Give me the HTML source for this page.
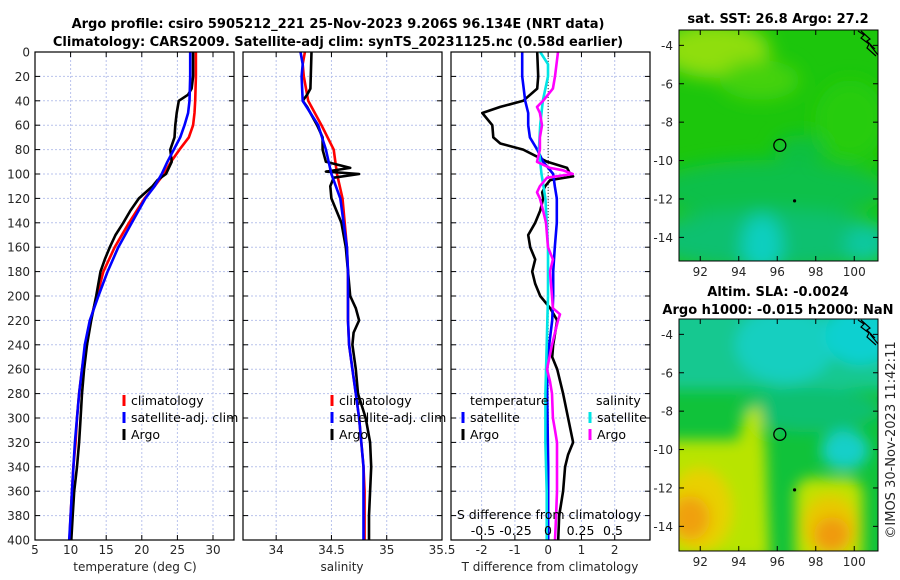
<!DOCTYPE html>
<html><head><meta charset="utf-8"><title>Argo profile</title>
<style>
html,body{margin:0;padding:0;background:#fff;}
svg{display:block;font-family:"DejaVu Sans","Liberation Sans",sans-serif;}
.tk{font-size:12px;fill:#262626;}
.ttl{font-size:13px;font-weight:bold;fill:#000;}
.lg{font-size:12.5px;fill:#000;}
</style></head>
<body>
<svg id="fig" width="900" height="580" viewBox="0 0 900 580">
<defs>
<filter id="blur1" x="-20%" y="-20%" width="140%" height="140%"><feGaussianBlur stdDeviation="9"/></filter>
<filter id="blur2" x="-20%" y="-20%" width="140%" height="140%"><feGaussianBlur stdDeviation="7"/></filter>
<clipPath id="clipM1"><rect x="679" y="30" width="199" height="231"/></clipPath>
<clipPath id="clipM2"><rect x="679" y="319" width="199" height="232"/></clipPath>
<clipPath id="clipP1"><rect x="35" y="52" width="199" height="488"/></clipPath>
<clipPath id="clipP2"><rect x="243" y="52" width="199" height="488"/></clipPath>
<clipPath id="clipP3"><rect x="451" y="52" width="199" height="488"/></clipPath>
</defs>
<text class="ttl" x="338" y="28" text-anchor="middle">Argo profile: csiro 5905212_221 25-Nov-2023 9.206S 96.134E (NRT data)</text>
<text class="ttl" x="338" y="46" text-anchor="middle">Climatology: CARS2009. Satellite-adj clim: synTS_20231125.nc (0.58d earlier)</text>

<!-- SST map -->
<g>
<text class="ttl" x="778" y="23" text-anchor="middle">sat. SST: 26.8 Argo: 27.2</text>
<g clip-path="url(#clipM1)">
<rect x="679" y="30" width="199" height="231" fill="#1cc60c"/>
<g filter="url(#blur1)">
<ellipse cx="715" cy="50" rx="55" ry="28" fill="#8fde08"/>
<ellipse cx="760" cy="80" rx="40" ry="20" fill="#44d20a"/>
<ellipse cx="850" cy="120" rx="35" ry="40" fill="#28cc08"/>
<ellipse cx="770" cy="190" rx="120" ry="30" fill="#10c048"/>
<ellipse cx="770" cy="240" rx="130" ry="30" fill="#0cc070"/>
<ellipse cx="762" cy="245" rx="20" ry="30" fill="#08cfc0"/>
<ellipse cx="865" cy="245" rx="20" ry="20" fill="#08c8a0"/>
<ellipse cx="800" cy="150" rx="25" ry="15" fill="#0fbf40"/>
</g>
</g>
<rect x="679" y="30" width="199" height="231" fill="none" stroke="#000" stroke-width="1"/>
</g>

<!-- SLA map -->
<g>
<text class="ttl" x="778" y="296" text-anchor="middle">Altim. SLA: -0.0024</text>
<text class="ttl" x="778" y="314" text-anchor="middle">Argo h1000: -0.015 h2000: NaN</text>
<g clip-path="url(#clipM2)">
<rect x="679" y="319" width="199" height="232" fill="#10c23a"/>
<g filter="url(#blur2)">
<rect x="660" y="300" width="240" height="90" fill="#14c890"/>
<ellipse cx="785" cy="345" rx="50" ry="38" fill="#18cfc0"/>
<ellipse cx="860" cy="335" rx="35" ry="30" fill="#10d0d0"/>
<ellipse cx="845" cy="450" rx="24" ry="20" fill="#18cfc8"/>
<ellipse cx="810" cy="410" rx="70" ry="22" fill="#10c070"/>
<polygon points="665,440 738,440 745,412 760,405 766,450 770,560 665,560" fill="#b8e400"/>
<ellipse cx="700" cy="510" rx="32" ry="42" fill="#e8d000"/>
<ellipse cx="690" cy="518" rx="20" ry="22" fill="#f0a010"/>
<rect x="795" y="478" width="68" height="90" rx="16" fill="#c0e200"/>
<ellipse cx="830" cy="525" rx="28" ry="30" fill="#e8c800"/>
<ellipse cx="832" cy="535" rx="18" ry="18" fill="#f09a10"/>
</g>
</g>
<rect x="679" y="319" width="199" height="232" fill="none" stroke="#000" stroke-width="1"/>
</g>
<text class="tk" transform="translate(895,440) rotate(-90)" text-anchor="middle" style="font-size:13px">©IMOS 30-Nov-2023 11:42:11</text>
<g id="plots"></g>
</svg>
<script>
// ---------- data ----------
const tempClimDepth = [0,20,40,50,60,70,80,90,100,110,120,140,160,180,200,220,240,260,280,300,320,340,360,380,400];
const tempClim = [27.6,27.6,27.5,27.4,27.2,26.6,25.3,24.1,23.1,21.8,20.4,18.2,16.2,14.6,13.7,12.8,12.1,11.6,11.2,10.9,10.7,10.4,10.2,10.0,9.85];
const tempSat = [26.8,26.8,26.7,26.5,26.0,25.4,24.5,23.6,22.8,21.8,20.5,18.6,16.7,15.2,13.9,12.7,12.0,11.6,11.2,10.9,10.6,10.4,10.2,10.0,9.8];
const tempArgoDepth = [0,20,30,35,40,50,60,70,80,90,100,105,110,120,130,140,150,160,170,180,200,220,240,260,280,300,320,340,360,380,400];
const tempArgo = [27.2,27.2,27.0,26.5,25.2,24.9,24.7,24.6,24.0,24.2,23.4,22.2,21.5,19.6,18.4,17.4,16.3,15.5,14.8,14.2,13.6,12.9,12.3,11.9,11.6,11.4,11.2,10.9,10.5,10.3,10.1];

const salDepth = [0,10,20,40,60,80,100,120,140,160,180,200,220,240,260,280,300,320,340,360,380,400];
const salClim = [34.26,34.24,34.25,34.29,34.41,34.52,34.55,34.6,34.62,34.64,34.65,34.65,34.65,34.66,34.69,34.72,34.75,34.77,34.79,34.8,34.8,34.8];
const salSat = [34.22,34.24,34.23,34.24,34.38,34.45,34.5,34.58,34.61,34.64,34.65,34.65,34.65,34.66,34.69,34.72,34.75,34.77,34.79,34.79,34.79,34.79];
const salArgoDepth = [0,30,35,40,45,50,60,70,80,90,95,98,100,103,110,120,140,160,180,200,210,220,230,240,260,280,300,320,340,360,380,400];
const salArgo = [34.32,34.31,34.28,34.24,34.28,34.31,34.37,34.42,34.42,34.45,34.67,34.45,34.75,34.52,34.49,34.5,34.59,34.63,34.65,34.67,34.72,34.75,34.70,34.69,34.72,34.74,34.81,34.85,34.86,34.85,34.84,34.84];

const tDiffSatDepth = [0,20,40,50,60,70,80,90,100,110,120,140,160,180,200,220,240,260,280,300,340,400];
const tDiffSat = [-0.78,-0.78,-0.69,-0.6,-0.6,-0.55,-0.33,-0.15,0.15,0.2,0.26,0.26,0.2,0.15,0.15,0.12,0.03,-0.03,-0.03,-0.02,0,0];
const tDiffArgoDepth = [0,20,30,40,45,50,60,70,75,80,90,95,100,102,105,110,115,120,130,140,150,160,170,180,190,200,210,220,230,240,250,260,280,300,320,330,340,360,380,400];
const tDiffArgo = [-0.33,-0.3,-0.33,-0.75,-1.44,-1.98,-1.68,-1.65,-1.44,-0.75,-0.03,0.57,0.66,0.75,0.06,-0.09,-0.18,-0.15,-0.24,-0.39,-0.6,-0.54,-0.39,-0.48,-0.39,-0.24,0.06,0.27,0.21,0.15,0.12,0.27,0.45,0.6,0.75,0.6,0.51,0.45,0.33,0.3];
const sDiffSatDepth = [0,10,20,40,60,80,100,120,160,200,240,280,320,360,400];
const sDiffSat = [-0.06,0,0,-0.04,-0.06,-0.07,-0.05,-0.02,0,0,-0.01,-0.02,-0.02,-0.01,-0.01];
const sDiffArgoDepth = [0,20,30,40,45,50,60,70,80,90,95,97,100,103,110,115,120,130,140,160,170,180,200,210,215,220,230,240,260,270,280,300,310,320,340,360,380,400];
const sDiffArgo = [0.077,0.054,0.038,-0.038,-0.085,-0.062,-0.046,-0.062,-0.062,-0.085,0.015,0.115,0.19,-0.008,-0.062,-0.085,-0.062,-0.038,-0.015,0,0.038,0.015,0.031,0.038,0.092,0.077,0.054,0.031,-0.008,0.015,0.031,0.038,0.054,0.069,0.069,0.069,0.062,0.054];

const depthTicks = [0,20,40,60,80,100,120,140,160,180,200,220,240,260,280,300,320,340,360,380,400];
const tempTicks = [5,10,15,20,25,30];
const salTicks = [34,34.5,35,35.5];
const salTickLabels = ["34","34.5","35","35.5"];
const tdTicks = [-2,-1,0,1,2];
const sdTicks = [-0.5,-0.25,0,0.25,0.5];
const sdTickLabels = ["-0.5","-0.25","0","0.25","0.5"];
const latTicks = [-4,-6,-8,-10,-12,-14];
const lonTicks = [92,94,96,98,100];
const argoLon = 96.134, argoLat = -9.206;

// ---------- axes ----------
const NS = "http://www.w3.org/2000/svg";
const root = document.getElementById('plots');
const PT = 52, PB = 540;
const yD = d => PT + d * (PB - PT) / 400;
const panels = [
  {x0:35, x1:234, min:5, max:32.95, name:'temperature-panel', clip:'clipP1'},
  {x0:243, x1:442, min:33.7, max:35.5, name:'salinity-panel', clip:'clipP2'},
  {x0:451, x1:650, min:-2.92, max:3.06, name:'difference-panel', clip:'clipP3'}
];
function sx(p, v){ return p.x0 + (v - p.min) * (p.x1 - p.x0) / (p.max - p.min); }
const sdScale = v => 548 + v * 130;

function el(tag, attrs, parent){
  const e = document.createElementNS(NS, tag);
  for (const k in attrs) e.setAttribute(k, attrs[k]);
  (parent || root).appendChild(e);
  return e;
}
function txt(x, y, s, cls, anchor, parent){
  const t = el('text', {x:x, y:y, class:cls, 'text-anchor':anchor || 'middle'}, parent);
  t.textContent = s;
  return t;
}

panels.forEach((p, i) => {
  const g = el('g', {});
  
  
  p.g = g;
  const ticks = i === 0 ? tempTicks : i === 1 ? salTicks : tdTicks;
  depthTicks.forEach(d => {
    const l = el('line', {x1:p.x0, x2:p.x1, y1:yD(d), y2:yD(d), stroke:'#b9c3ec', 'stroke-width':1, 'stroke-dasharray':'2,2'}, g);
    
    
  });
  ticks.forEach(v => {
    const x = sx(p, v);
    const l = el('line', {x1:x, x2:x, y1:PT, y2:PB, stroke:'#b9c3ec', 'stroke-width':1, 'stroke-dasharray':'2,2'}, g);
    
    
    el('line', {x1:x, x2:x, y1:PB, y2:PB-5, stroke:'#000'}, g);
    el('line', {x1:x, x2:x, y1:PT, y2:PT+5, stroke:'#000'}, g);
  });
  depthTicks.forEach(d => {
    el('line', {x1:p.x0, x2:p.x0+5, y1:yD(d), y2:yD(d), stroke:'#000'}, g);
    el('line', {x1:p.x1, x2:p.x1-5, y1:yD(d), y2:yD(d), stroke:'#000'}, g);
  });
  ticks.forEach((v, k) => {
    const lab = i === 1 ? salTickLabels[k] : String(v);
    const t = txt(sx(p, v), 554, lab, 'tk', 'middle', g);
    
    
  });
});
depthTicks.forEach(d => {
  const t = txt(30, yD(d) + 4.5, String(d), 'tk', 'end', panels[0].g);
  
  
});
let t;
t = txt(135, 571, 'temperature (deg C)', 'tk', 'middle', panels[0].g);


t = txt(342, 571, 'salinity', 'tk', 'middle', panels[1].g);


t = txt(550, 571, 'T difference from climatology', 'tk', 'middle', panels[2].g);



const zl = el('line', {x1:sx(panels[2],0), x2:sx(panels[2],0), y1:PT, y2:PB, stroke:'#333', 'stroke-width':1, 'stroke-dasharray':'1,2'}, panels[2].g);



function series(p, xs, depths, xfn, color, name){
  const pts = xs.map((v, k) => xfn(v).toFixed(1) + ',' + yD(depths[k]).toFixed(1)).join(' ');
  const pl = el('polyline', {points:pts, fill:'none', stroke:color, 'stroke-width':2.6, 'stroke-linejoin':'round', 'clip-path':'url(#' + p.clip + ')'}, p.g);
  
  
}
const P1 = panels[0], P2 = panels[1], P3 = panels[2];
series(P1, tempClim, tempClimDepth, v => sx(P1, v), '#ff0000', 'temperature-climatology-line');
series(P1, tempArgo, tempArgoDepth, v => sx(P1, v), '#000000', 'temperature-argo-line');
series(P1, tempSat, tempClimDepth, v => sx(P1, v), '#0000ff', 'temperature-satellite-line');
series(P2, salClim, salDepth, v => sx(P2, v), '#ff0000', 'salinity-climatology-line');
series(P2, salArgo, salArgoDepth, v => sx(P2, v), '#000000', 'salinity-argo-line');
series(P2, salSat, salDepth, v => sx(P2, v), '#0000ff', 'salinity-satellite-line');
series(P3, tDiffArgo, tDiffArgoDepth, v => sx(P3, v), '#000000', 't-diff-argo-line');
series(P3, tDiffSat, tDiffSatDepth, v => sx(P3, v), '#0000ff', 't-diff-satellite-line');
series(P3, sDiffSat, sDiffSatDepth, sdScale, '#00e5e5', 's-diff-satellite-line');
series(P3, sDiffArgo, sDiffArgoDepth, sdScale, '#ff00ff', 's-diff-argo-line');

t = txt(549, 519, 'S difference from climatology', 'lg', 'middle', P3.g);


sdTicks.forEach((v, k) => {
  const tt = txt(sdScale(v), 535, sdTickLabels[k], 'lg', 'middle', P3.g);
  
  
});

function legend(g, mx, y, color, label){
  const m = el('rect', {x:mx-1.5, y:y-10, width:3, height:11, fill:color}, g);
  
  
  const tt = txt(mx + 7, y, label, 'lg', 'start', g);
  
  
}
[[P1,124],[P2,332]].forEach(([p, mx]) => {
  legend(p.g, mx, 405, '#ff0000', 'climatology');
  legend(p.g, mx, 422, '#0000ff', 'satellite-adj. clim');
  legend(p.g, mx, 439, '#000000', 'Argo');
});
t = txt(470, 405, 'temperature', 'lg', 'start', P3.g);


legend(P3.g, 463, 422, '#0000ff', 'satellite');
legend(P3.g, 463, 439, '#000000', 'Argo');
t = txt(596, 405, 'salinity', 'lg', 'start', P3.g);


legend(P3.g, 590, 422, '#00e5e5', 'satellite');
legend(P3.g, 590, 439, '#ff00ff', 'Argo');

panels.forEach(p => {
  const b = el('rect', {x:p.x0, y:PT, width:p.x1-p.x0, height:PB-PT, fill:'none', stroke:'#000', 'stroke-width':1.2}, p.g);
  
  
});

const maps = [{y0:30, y1:261, name:'sst-map'}, {y0:319, y1:551, name:'sla-map'}];
const lonX = lon => 681 + (lon - 91) * 19.25;
maps.forEach(m => {
  const g = el('g', {});
  
  
  const latY = lat => m.y0 + (-3.2 - lat) * 19.2;
  latTicks.forEach(lat => {
    const y = latY(lat);
    el('line', {x1:679, x2:684, y1:y, y2:y, stroke:'#000'}, g);
    el('line', {x1:878, x2:873, y1:y, y2:y, stroke:'#000'}, g);
    const tt = txt(673, y + 4.5, String(lat), 'tk', 'end', g);
    
    
  });
  lonTicks.forEach(lon => {
    const x = lonX(lon);
    el('line', {x1:x, x2:x, y1:m.y1, y2:m.y1-5, stroke:'#000'}, g);
    el('line', {x1:x, x2:x, y1:m.y0, y2:m.y0+5, stroke:'#000'}, g);
    const tt = txt(x, m.y1 + 15, String(lon), 'tk', 'middle', g);
    
    
  });
  const c = el('circle', {cx:lonX(argoLon), cy:latY(argoLat), r:6, fill:'none', stroke:'#000', 'stroke-width':1.3}, g);
  
  
  const dot = el('circle', {cx:lonX(96.9), cy:latY(-12.1), r:1.6, fill:'#000'}, g);
  
  
  const coast = el('path', {d:'M858 ' + (m.y0+1) + ' l6 4 l-3 3 l8 6 l-2 4 l9 8 M861 ' + (m.y0+1) + ' l9 8 l-3 2 l8 8 M870 ' + (m.y0+15) + ' l8 10', fill:'none', stroke:'#000', 'stroke-width':1.2}, g);
  
  
});
</script>
</body></html>
